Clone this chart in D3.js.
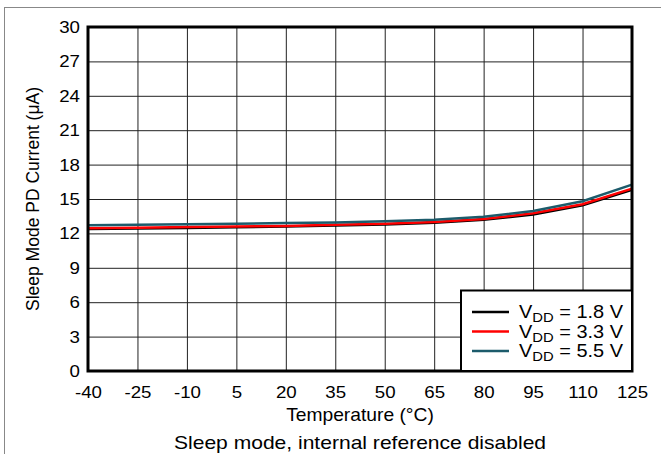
<!DOCTYPE html>
<html>
<head>
<meta charset="utf-8">
<script src="https://cdn.jsdelivr.net/npm/d3@7"></script>
<style>
  body { margin: 0; background: #fff; }
  text { font-family: "Liberation Sans", Arial, sans-serif; fill: #000; }
</style>
</head>
<body>
<svg width="661" height="454"></svg>
<script>
var width = 661;
var height = 454;

// data
var temps = [-40, -25, -10, 5, 20, 35, 50, 65, 80, 95, 110, 125];
var vdd18 = [12.38, 12.42, 12.48, 12.53, 12.6, 12.68, 12.78, 12.93, 13.18, 13.65, 14.45, 15.8];
var vdd33 = [12.45, 12.5, 12.55, 12.6, 12.65, 12.75, 12.85, 13.0, 13.25, 13.75, 14.55, 15.9];
var vdd55 = [12.7, 12.75, 12.8, 12.85, 12.9, 12.95, 13.05, 13.2, 13.45, 13.95, 14.8, 16.25];
var yTicks = [0, 3, 6, 9, 12, 15, 18, 21, 24, 27, 30];
var seriesNames = ["1.8 V", "3.3 V", "5.5 V"];
var seriesColors = ["#000000", "#ff0000", "#1c5b6b"];

var series = [vdd18, vdd33, vdd55].map((vals, i) => ({
    name: seriesNames[i],
    color: seriesColors[i],
    points: temps.map((t, j) => ({t: t, v: vals[j]}))
}));

var m = {left: 88, right: 632, top: 27, bottom: 371};
var sx = 1.1; // text in the picture is a bit wider than Arial

var x = d3.scaleLinear().domain([-40, 125]).range([m.left, m.right]);
var y = d3.scaleLinear().domain([0, 30]).range([m.bottom, m.top]);

var svg = d3.select('svg');

// put a horizontally stretched text at (px, py)
function label(px, py, str, size, stretch) {
    return svg.append('text')
        .attr('transform', `translate(${px}, ${py}) scale(${stretch}, 1)`)
        .attr('text-anchor', 'middle')
        .style('font-size', size + 'px')
        .text(str);
}

// outer frame (top and left only)
svg.append('line').attr('x1', 4).attr('x2', width).attr('y1', 7.5).attr('y2', 7.5)
    .attr('stroke', '#888').attr('stroke-width', 1);
svg.append('line').attr('x1', 4.5).attr('x2', 4.5).attr('y1', 7).attr('y2', height)
    .attr('stroke', '#888').attr('stroke-width', 1);

// grid via axes
var xAxis = svg.append('g')
    .attr('transform', `translate(0, ${m.bottom})`)
    .call(d3.axisBottom(x).tickValues(temps).tickFormat(d => String(d))
        .tickSize(-(m.bottom - m.top)).tickPadding(15));
var yAxis = svg.append('g')
    .attr('transform', `translate(${m.left}, 0)`)
    .call(d3.axisLeft(y).tickValues(yTicks).tickFormat(d => String(d))
        .tickSize(-(m.right - m.left)).tickPadding(8));

[xAxis, yAxis].forEach(function(a) {
    a.select('.domain').remove();
    a.selectAll('line').attr('stroke', '#222').attr('stroke-width', 1);
    a.selectAll('text').style('font-size', '17px').attr('font-family', null);
});
xAxis.selectAll('text').attr('transform', `scale(${sx}, 1)`);
yAxis.selectAll('text').attr('x', null).attr('transform', `translate(-8, 0) scale(${sx}, 1)`);

// lines
var line = d3.line().x(d => x(d.t)).y(d => y(d.v));
svg.append('g').selectAll('path')
    .data(series)
    .enter()
    .append('path')
    .attr('fill', 'none')
    .attr('stroke', d => d.color)
    .attr('stroke-width', 2.5)
    .attr('d', d => line(d.points));

// plot border
svg.append('rect')
    .attr('x', m.left).attr('y', m.top)
    .attr('width', m.right - m.left).attr('height', m.bottom - m.top)
    .attr('fill', 'none').attr('stroke', '#000').attr('stroke-width', 3);

// legend
var lg = svg.append('g');
lg.append('rect')
    .attr('x', 461).attr('y', 290.5)
    .attr('width', m.right - 461).attr('height', m.bottom - 290.5)
    .attr('fill', '#fff').attr('stroke', '#000').attr('stroke-width', 2);
series.forEach(function(s, i) {
    var ly = 312 + i * 19.5;
    lg.append('line').attr('x1', 472).attr('x2', 509).attr('y1', ly).attr('y2', ly)
        .attr('stroke', s.color).attr('stroke-width', 2.5);
    var t = lg.append('text')
        .attr('transform', `translate(519, ${ly + 6}) scale(1.14, 1)`)
        .style('font-size', '17.5px');
    t.append('tspan').text('V');
    t.append('tspan').attr('dy', 4).style('font-size', '13px').text('DD');
    t.append('tspan').attr('dy', -4).text(' = ' + s.name);
});

// axis titles
label((m.left + m.right) / 2, 421, 'Temperature (°C)', 17.5, 1.1);
svg.append('text')
    .attr('transform', `translate(39, ${(m.top + m.bottom) / 2}) rotate(-90)`)
    .attr('text-anchor', 'middle').style('font-size', '17.5px')
    .text('Sleep Mode PD Current (μA)');
label((m.left + m.right) / 2, 449, 'Sleep mode, internal reference disabled', 18, 1.17);
</script>
</body>
</html>
